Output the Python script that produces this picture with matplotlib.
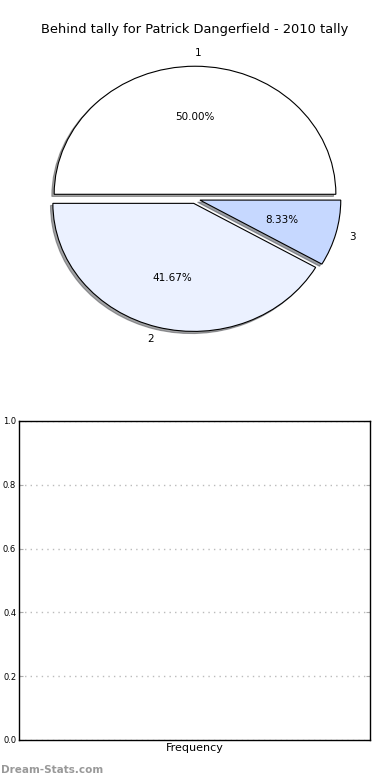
import matplotlib
matplotlib.use("Agg")
import matplotlib.pyplot as plt

title = "Behind tally for Patrick Dangerfield - 2010 tally"
labels = ["1", "2", "3"]
values = [6, 5, 1]
colors = ["#ffffff", "#ebf1ff", "#c6d8ff"]
explode = [0.036, 0.036, 0.036]
yticks = [0.0, 0.2, 0.4, 0.6, 0.8, 1.0]
ytick_labels = ["0.0", "0.2", "0.4", "0.6", "0.8", "1.0"]

fig = plt.figure(figsize=(3.9, 7.8), dpi=100)
fig.patch.set_facecolor("white")

ax = fig.add_axes([0.0667, 0.548, 0.8667, 0.394])
wedges, texts, autotexts = ax.pie(
    values, labels=labels, colors=colors, explode=explode,
    autopct="%1.2f%%", shadow={"ox": -0.012, "oy": -0.012, "shade": 0.7},
    startangle=0,
    labeldistance=1.1, pctdistance=0.6,
    wedgeprops={"edgecolor": "black", "linewidth": 0.8},
    textprops={"fontsize": 7.5},
)
texts[0].set_ha("left")
ax.set_aspect("auto")
ax.set_xlim(-1.2, 1.2)
ax.set_ylim(-1.2, 1.2)
ax.axis("off")

fig.text(0.5, 1 - 30 / 780, title, ha="center", va="center", fontsize=9.4)

bx = fig.add_axes([0.0487, 0.0513, 0.9, 0.409])
bx.set_ylim(0, 1)
bx.set_xlim(0, 1)
bx.set_yticks(yticks)
bx.set_yticklabels(ytick_labels, fontsize=6)
bx.set_xticks([])
bx.set_xlabel("Frequency", fontsize=8, labelpad=2)
bx.yaxis.grid(True, linestyle=(0, (1, 3)), color="#bbbbbb", linewidth=1)
bx.tick_params(axis="y", direction="in", length=3, color="#aaaaaa", right=True, pad=2)
for s in bx.spines.values():
    s.set_linewidth(1)
    s.set_color("black")

fig.text(0.002, 1 - 770 / 780, "Dream-Stats.com", ha="left", va="center",
         fontsize=7.5, color="#999999", fontweight="semibold")

fig.savefig("out.png", dpi=100, facecolor="white")
